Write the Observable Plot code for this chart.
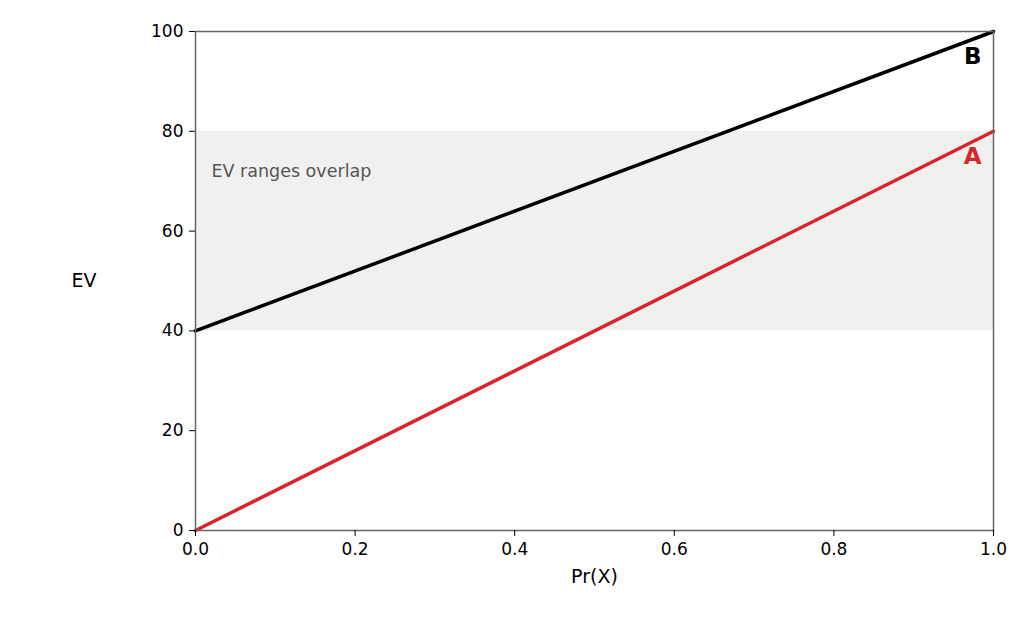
<!DOCTYPE html>
<html><head>
<script src="https://cdn.jsdelivr.net/npm/d3@7"></script>
<script src="https://cdn.jsdelivr.net/npm/@observablehq/plot@0.6"></script>
<style>body{margin:0;background:#fff}</style>
</head><body><div id="c"></div>
<script>
const px = [0, 1];
const evA = [0, 80];
const evB = [40, 100];
const band = [{y1: 40, y2: 80}];
const xTicks = [0, 0.2, 0.4, 0.6, 0.8, 1.0];
const yTicks = [0, 20, 40, 60, 80, 100];
const A = px.map((x, i) => ({x, y: evA[i]}));
const B = px.map((x, i) => ({x, y: evB[i]}));
const chart = Plot.plot({
  width: 1024, height: 624,
  marginLeft: 195, marginRight: 31, marginTop: 31, marginBottom: 94,
  style: {fontFamily: "DejaVu Sans", fontSize: "17px", color: "#000"},
  x: {domain: [0, 1], label: null},
  y: {domain: [0, 100], label: null},
  marks: [
    Plot.rectY(band, {x1: 0, x2: 1, y1: "y1", y2: "y2", fill: "#f0f0f0"}),
    Plot.line(B, {x: "x", y: "y", stroke: "#000", strokeWidth: 3.5}),
    Plot.line(A, {x: "x", y: "y", stroke: "#d62728", strokeWidth: 3.5}),
    Plot.text(["EV ranges overlap"], {x: 0.02, y: 72, text: d => d, textAnchor: "start", fill: "#555", fontSize: 17.5}),
    Plot.text(["B"], {x: 0.985, y: 95, text: d => d, textAnchor: "end", fontWeight: "bold", fontSize: 23, fill: "#000"}),
    Plot.text(["A"], {x: 0.985, y: 75, text: d => d, textAnchor: "end", fontWeight: "bold", fontSize: 23, fill: "#d62728"}),
    Plot.frame({stroke: "#666", strokeWidth: 1.5}),
    Plot.axisX({ticks: xTicks, tickFormat: d3.format(".1f"), tickSize: 6, tickPadding: 6, fontSize: 17, label: null}),
    Plot.axisY({ticks: yTicks, tickSize: 6, tickPadding: 6, fontSize: 17, label: null}),
    Plot.text(["EV"], {frameAnchor: "left", dx: -124, text: d => d, fontSize: 19}),
    Plot.text(["Pr(X)"], {frameAnchor: "bottom", dy: 52, text: d => d, fontSize: 19})
  ]
});
document.getElementById("c").appendChild(chart);
</script></body></html>
